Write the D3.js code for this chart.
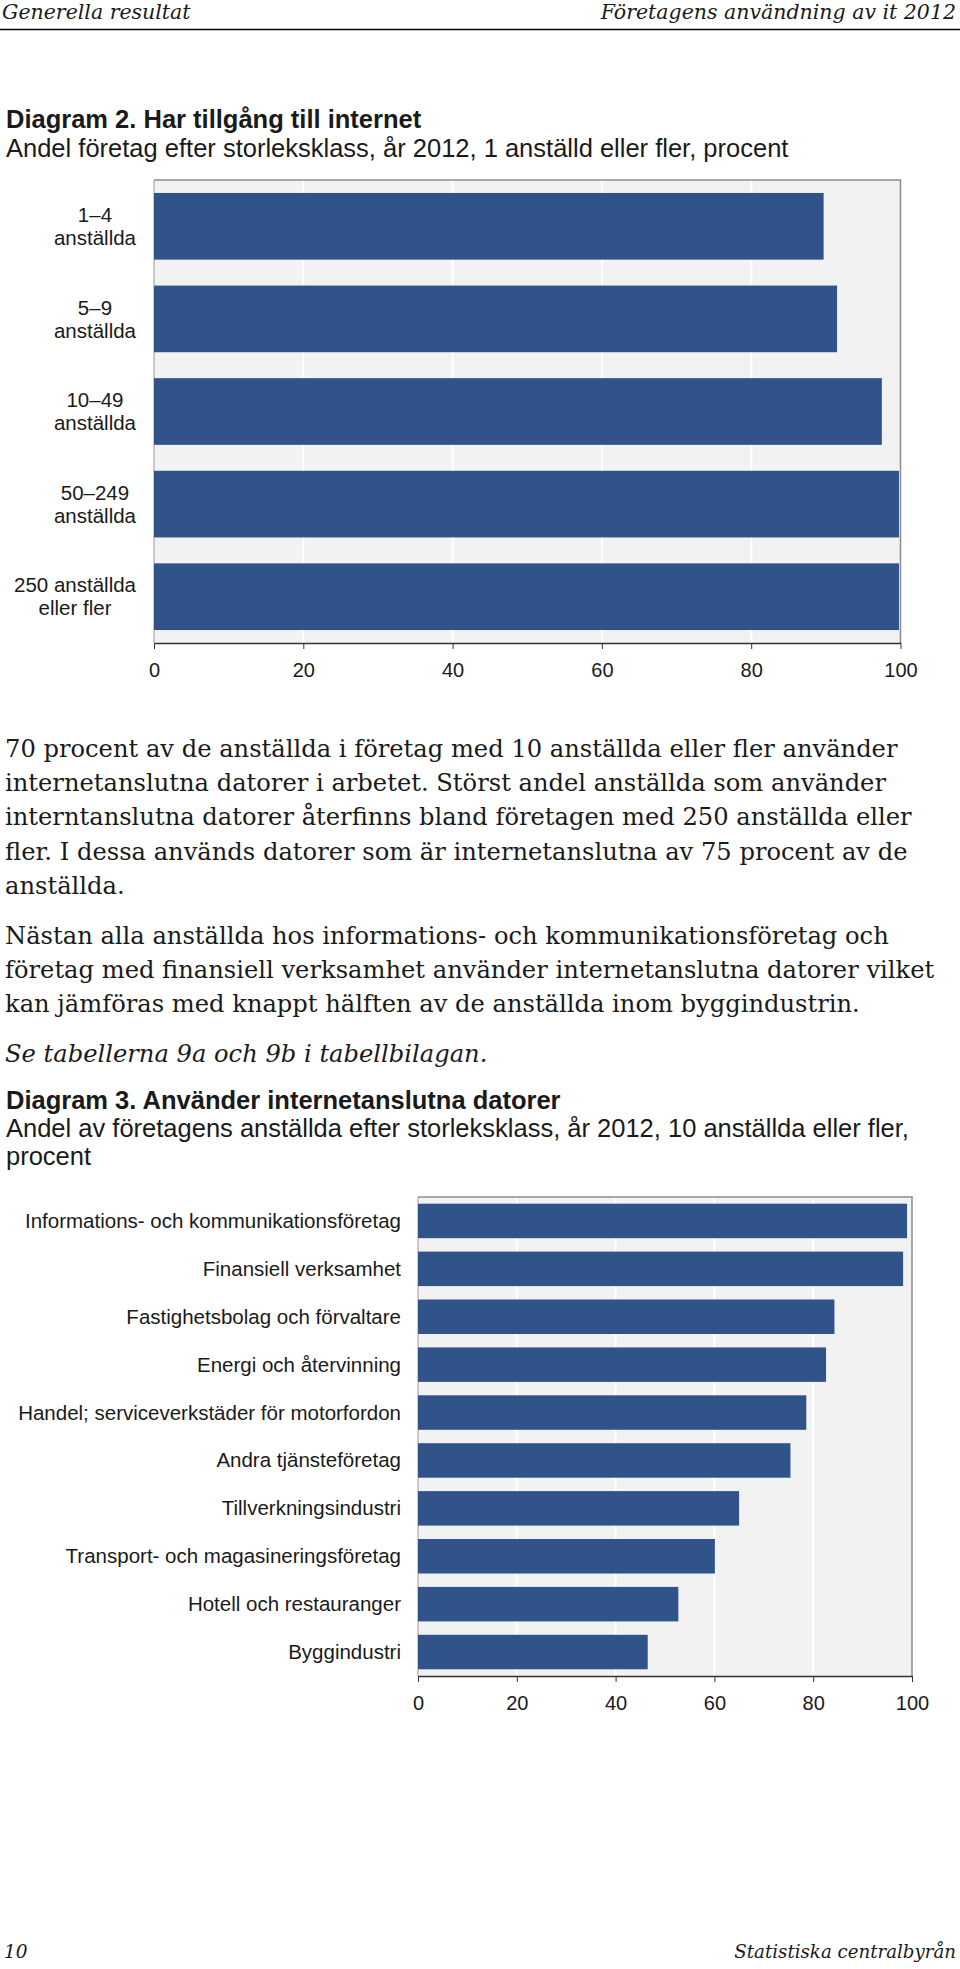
<!DOCTYPE html>
<html>
<head>
<meta charset="utf-8">
<script src="https://cdn.jsdelivr.net/npm/d3@7"></script>
<style>
  body { margin: 0; background: #fff; }
</style>
</head>
<body>
<svg id="page"></svg>
<script>
// Diagram 2 data
const sizeClasses = [["1–4", "anställda"], ["5–9", "anställda"], ["10–49", "anställda"], ["50–249", "anställda"], ["250 anställda", "eller fler"]];
const internetAccess = [89.7, 91.5, 97.5, 99.8, 99.8];

// Diagram 3 data
const industries = [
  "Informations- och kommunikationsföretag",
  "Finansiell verksamhet",
  "Fastighetsbolag och förvaltare",
  "Energi och återvinning",
  "Handel; serviceverkstäder för motorfordon",
  "Andra tjänsteföretag",
  "Tillverkningsindustri",
  "Transport- och magasineringsföretag",
  "Hotell och restauranger",
  "Byggindustri"
];
const connectedShare = [99.0, 98.2, 84.3, 82.6, 78.6, 75.4, 65.0, 60.1, 52.7, 46.5];

const percentTicks = [0, 20, 40, 60, 80, 100];

// Body text, one entry per printed line
const para1 = [
  "70 procent av de anställda i företag med 10 anställda eller fler använder",
  "internetanslutna datorer i arbetet. Störst andel anställda som använder",
  "interntanslutna datorer återfinns bland företagen med 250 anställda eller",
  "fler. I dessa används datorer som är internetanslutna av 75 procent av de",
  "anställda."
];
const para2 = [
  "Nästan alla anställda hos informations- och kommunikationsföretag och",
  "företag med finansiell verksamhet använder internetanslutna datorer vilket",
  "kan jämföras med knappt hälften av de anställda inom byggindustrin."
];
const tableNote = "Se tabellerna 9a och 9b i tabellbilagan.";

const W = 960, H = 1969;
const sans = "'Liberation Sans', Arial, sans-serif";
const serif = "'DejaVu Serif', serif";
const barColor = "#30548a";
const ink = "#1a1a1a";

const svg = d3.select("#page")
  .attr("width", W)
  .attr("height", H)
  .style("font-family", sans);

svg.append("rect").attr("width", W).attr("height", H).attr("fill", "#fff");

// Page header
svg.append("text")
  .attr("x", 2).attr("y", 19)
  .attr("font-family", serif).attr("font-style", "italic").attr("font-size", 20.5)
  .attr("fill", ink)
  .text("Generella resultat");
svg.append("text")
  .attr("x", 956).attr("y", 19)
  .attr("text-anchor", "end")
  .attr("font-family", serif).attr("font-style", "italic").attr("font-size", 20.5)
  .attr("fill", ink)
  .text("Företagens användning av it 2012");
svg.append("line")
  .attr("x1", 0).attr("x2", W).attr("y1", 29.5).attr("y2", 29.5)
  .attr("stroke", "#000").attr("stroke-width", 1.5);

// Diagram titles
function title(y, bold, lines) {
  lines.forEach((t, i) => {
    svg.append("text")
      .attr("x", 6).attr("y", y + i * 28)
      .attr("font-size", 25.5)
      .attr("font-weight", bold ? "bold" : "normal")
      .attr("fill", ink)
      .text(t);
  });
}

title(128, true, ["Diagram 2. Har tillgång till internet"]);
title(157, false, ["Andel företag efter storleksklass, år 2012, 1 anställd eller fler, procent"]);

// Generic horizontal bar chart inside a grey panel
function barChart(cfg) {
  const x = d3.scaleLinear().domain([0, 100]).range([cfg.left, cfg.right]);
  const y = d3.scaleBand()
    .domain(d3.range(cfg.values.length))
    .range([cfg.top, cfg.bottom])
    .paddingInner(0.28)
    .paddingOuter(0.14);

  const g = svg.append("g");

  g.append("rect")
    .attr("x", cfg.left).attr("y", cfg.top)
    .attr("width", cfg.right - cfg.left).attr("height", cfg.bottom - cfg.top)
    .attr("fill", "#f2f2f2");

  // white grid lines
  g.selectAll(".grid")
    .data(percentTicks.slice(1, -1))
    .enter()
    .append("line")
    .attr("x1", d => x(d)).attr("x2", d => x(d))
    .attr("y1", cfg.top).attr("y2", cfg.bottom)
    .attr("stroke", "#fff").attr("stroke-width", 2);

  // panel frame: top and right darker, left thin
  g.append("line")
    .attr("x1", cfg.left).attr("x2", cfg.right + 0.75)
    .attr("y1", cfg.top).attr("y2", cfg.top)
    .attr("stroke", "#8c8c8c").attr("stroke-width", 1.5);
  g.append("line")
    .attr("x1", cfg.right).attr("x2", cfg.right)
    .attr("y1", cfg.top).attr("y2", cfg.bottom)
    .attr("stroke", "#8c8c8c").attr("stroke-width", 1.5);
  g.append("line")
    .attr("x1", cfg.left).attr("x2", cfg.left)
    .attr("y1", cfg.top).attr("y2", cfg.bottom)
    .attr("stroke", "#9a9a9a").attr("stroke-width", 1);

  g.selectAll(".bar")
    .data(cfg.values)
    .enter()
    .append("rect")
    .attr("class", "bar")
    .attr("x", x(0))
    .attr("y", (d, i) => y(i))
    .attr("width", d => x(d) - x(0))
    .attr("height", y.bandwidth())
    .attr("fill", barColor);

  // x axis
  const axis = g.append("g")
    .attr("transform", `translate(0,${cfg.bottom})`)
    .call(d3.axisBottom(x).tickValues(percentTicks).tickSize(6).tickSizeOuter(0).tickPadding(14));
  axis.select(".domain").attr("stroke", "#333").attr("stroke-width", 1.5);
  axis.selectAll(".tick line").attr("stroke", "#333");
  axis.selectAll(".tick text")
    .attr("font-family", sans).attr("font-size", 20).attr("fill", ink);

  cfg.drawLabels(g, y);
}

// Diagram 2
barChart({
  top: 180, bottom: 643, left: 154, right: 900.5,
  values: internetAccess,
  drawLabels: (g, y) => {
    const right = 136, lineH = 23;
    sizeClasses.forEach((lines, i) => {
      const c = y(i) + y.bandwidth() / 2;
      const lab = g.append("g");
      const texts = lines.map((t, j) => lab.append("text")
        .attr("y", c + (j - 0.5) * lineH + 7.2)
        .attr("text-anchor", "middle")
        .attr("font-size", 20.5)
        .attr("fill", ink)
        .text(t));
      const wMax = d3.max(texts, t => t.node().getComputedTextLength());
      texts.forEach(t => t.attr("x", right - wMax / 2));
    });
  }
});

// Body text
function paragraph(lines, y0, italic) {
  lines.forEach((t, i) => {
    svg.append("text")
      .attr("x", 5).attr("y", y0 + i * 34.2)
      .attr("font-family", serif)
      .attr("font-style", italic ? "italic" : "normal")
      .attr("font-size", 24.2)
      .attr("fill", ink)
      .text(t);
  });
}
paragraph(para1, 757, false);
paragraph(para2, 944, false);
paragraph([tableNote], 1062, true);

// Diagram 3
title(1109, true, ["Diagram 3. Använder internetanslutna datorer"]);
title(1137, false, ["Andel av företagens anställda efter storleksklass, år 2012, 10 anställda eller fler,", "procent"]);

barChart({
  top: 1197, bottom: 1676, left: 418, right: 912,
  values: connectedShare,
  drawLabels: (g, y) => {
    g.selectAll(".ind-label")
      .data(industries)
      .enter()
      .append("text")
      .attr("x", 401)
      .attr("y", (d, i) => y(i) + y.bandwidth() / 2 + 7)
      .attr("text-anchor", "end")
      .attr("font-size", 20.5)
      .attr("fill", ink)
      .text(d => d);
  }
});

// Page footer
svg.append("text")
  .attr("x", 4).attr("y", 1958)
  .attr("font-family", serif).attr("font-style", "italic").attr("font-size", 18.5)
  .attr("fill", ink)
  .text("10");
svg.append("text")
  .attr("x", 956).attr("y", 1958)
  .attr("text-anchor", "end")
  .attr("font-family", serif).attr("font-style", "italic").attr("font-size", 18.2)
  .attr("fill", ink)
  .text("Statistiska centralbyrån");
</script>
</body>
</html>
